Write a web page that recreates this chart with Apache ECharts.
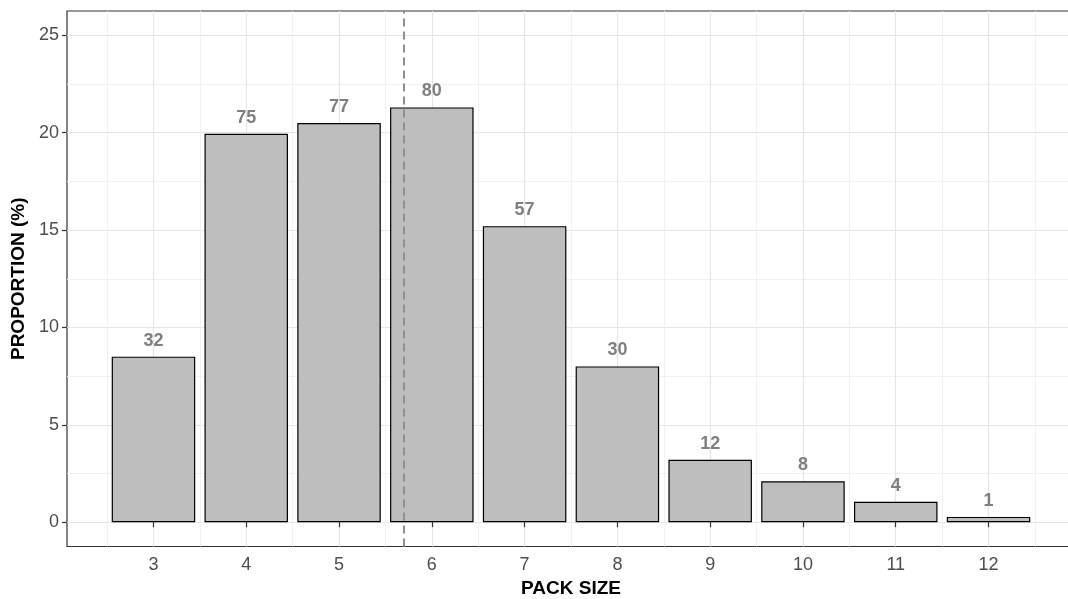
<!DOCTYPE html>
<html>
<head>
<meta charset="utf-8">
<script src="https://cdn.jsdelivr.net/npm/echarts@6/dist/echarts.min.js"></script>
<style>html,body{margin:0;padding:0;background:#fff;}#c{width:1068px;height:599px;}</style>
</head>
<body>
<div id="c"></div>
<script>
const packSizes = [3, 4, 5, 6, 7, 8, 9, 10, 11, 12];
const proportions = [8.5, 19.95, 20.5, 21.3, 15.2, 8.0, 3.2, 2.1, 1.05, 0.27];
const counts = [32, 75, 77, 80, 57, 30, 12, 8, 4, 1];
const meanPackSize = 5.70;
const xTicks = [3, 4, 5, 6, 7, 8, 9, 10, 11, 12];
const xMinor = [2.5, 3.5, 4.5, 5.5, 6.5, 7.5, 8.5, 9.5, 10.5, 11.5, 12.5];
const yTicks = [0, 5, 10, 15, 20, 25];
const yMinor = [2.5, 7.5, 12.5, 17.5, 22.5];

const FONT = 'Liberation Sans, Arial, sans-serif';
const xMin = 2.068, xMax = 12.932, yMin = -1.25, yMax = 26.25;
const majorGrid = {show: true, lineStyle: {color: '#e5e5e5', width: 1.2}};
const minorGrid = {show: true, lineStyle: {color: '#efefef', width: 0.9}};

const chart = echarts.init(document.getElementById('c'));
chart.setOption({
  animation: false,
  backgroundColor: '#ffffff',
  grid: {left: 67, top: 11, width: 1008, height: 535.5, show: true,
         outerBoundsMode: 'none', containLabel: false,
         borderColor: '#333333', borderWidth: 1.2, backgroundColor: '#ffffff'},
  xAxis: [
    {type: 'value', min: xMin, max: xMax, position: 'bottom',
     name: 'PACK SIZE', nameLocation: 'middle', nameGap: 31,
     nameTextStyle: {fontFamily: FONT, fontWeight: 'bold', fontSize: 19, color: '#000'},
     axisLine: {show: false},
     axisTick: {show: true, customValues: xTicks, length: 5, lineStyle: {color: '#333333', width: 1.2}},
     axisLabel: {show: true, customValues: xTicks, margin: 10, fontFamily: FONT, fontSize: 18, color: '#4d4d4d'},
     splitLine: majorGrid},
    {type: 'value', min: xMin, max: xMax, position: 'bottom',
     axisLine: {show: false},
     axisTick: {show: false, customValues: xMinor},
     axisLabel: {show: false, customValues: xMinor},
     splitLine: minorGrid}
  ],
  yAxis: [
    {type: 'value', min: yMin, max: yMax, position: 'left',
     name: 'PROPORTION (%)', nameLocation: 'middle', nameGap: 38,
     nameTextStyle: {fontFamily: FONT, fontWeight: 'bold', fontSize: 19, color: '#000'},
     axisLine: {show: false},
     axisTick: {show: true, customValues: yTicks, length: 5, lineStyle: {color: '#333333', width: 1.2}},
     axisLabel: {show: true, customValues: yTicks, margin: 8, fontFamily: FONT, fontSize: 18, color: '#4d4d4d'},
     splitLine: majorGrid},
    {type: 'value', min: yMin, max: yMax, position: 'left',
     axisLine: {show: false},
     axisTick: {show: false, customValues: yMinor},
     axisLabel: {show: false, customValues: yMinor},
     splitLine: minorGrid}
  ],
  series: [{
    type: 'bar',
    xAxisIndex: 0, yAxisIndex: 0,
    data: packSizes.map((p, i) => [p, proportions[i]]),
    barWidth: 83.5,
    itemStyle: {color: '#bebebe', borderColor: '#000000', borderWidth: 1.2},
    label: {show: true, position: 'top', distance: 7,
            formatter: p => String(counts[p.dataIndex]),
            fontFamily: FONT, fontWeight: 'bold', fontSize: 18, color: '#808080'},
    markLine: {silent: true, symbol: 'none', label: {show: false},
               lineStyle: {color: '#8f8f8f', width: 2, type: [8, 5]},
               data: [{xAxis: meanPackSize}]},
    z: 3
  }]
});
</script>
</body>
</html>
